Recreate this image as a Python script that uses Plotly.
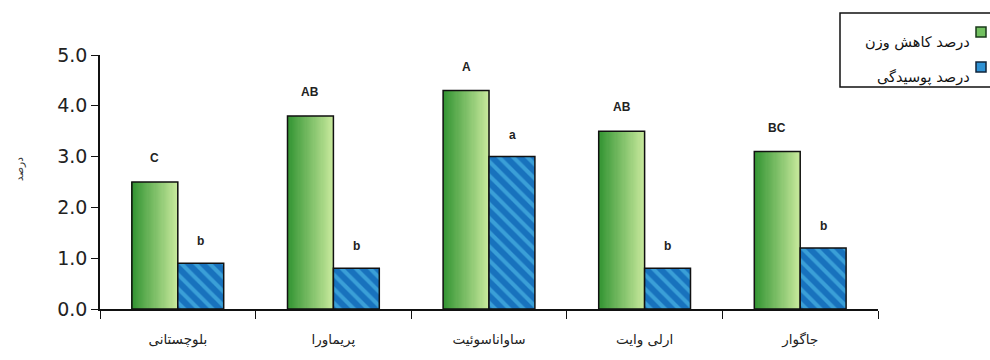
import plotly.graph_objects as go

categories = ["بلوچستانی", "پریماورا", "ساواناسوئیت", "ارلی وایت", "جاگوار"]
weight_loss = [2.5, 3.8, 4.3, 3.5, 3.1]
decay = [0.9, 0.8, 3.0, 0.8, 1.2]
weight_letters = ["C", "AB", "A", "AB", "BC"]
decay_letters = ["b", "b", "a", "b", "b"]
series_names = ["درصد کاهش وزن", "درصد پوسیدگی"]
y_ticks = [0, 1, 2, 3, 4, 5]
y_title = "درصد"

BW = 0.295
NSL = 40
dark = (50, 148, 50)
light = (198, 232, 155)

fig = go.Figure()

# green gradient bars built from thin slices
for i in range(NSL):
    t = i / (NSL - 1)
    c = tuple(round(dark[k] + (light[k] - dark[k]) * t) for k in range(3))
    fig.add_trace(go.Bar(
        x=categories, y=weight_loss, width=BW / NSL + 0.003, offset=-BW + i * BW / NSL,
        marker=dict(color="rgb(%d,%d,%d)" % c, line=dict(width=0)),
        showlegend=False, hoverinfo="skip"))
# green outline
fig.add_trace(go.Bar(
    x=categories, y=weight_loss, width=BW, offset=-BW, name=series_names[0],
    marker=dict(color="rgba(0,0,0,0)", line=dict(color="#111", width=1.5)),
    showlegend=False))
# blue hatched bars
fig.add_trace(go.Bar(
    x=categories, y=decay, width=BW, offset=0, name=series_names[1],
    marker=dict(color="#1872bd", line=dict(color="#111", width=1.5),
                pattern=dict(shape="\\", fgcolor="#5ccbf2", bgcolor="#1872bd",
                             size=10, solidity=0.4)),
    showlegend=False))

annotations = []
for cat, v, l in zip(categories, weight_loss, weight_letters):
    annotations.append(dict(x=cat, y=v, xref="x", yref="y", text="<b>%s</b>" % l,
                            showarrow=False, xshift=-23, yshift=24,
                            font=dict(family="Arial, Liberation Sans", size=12, color="#222")))
for cat, v, l in zip(categories, decay, decay_letters):
    annotations.append(dict(x=cat, y=v, xref="x", yref="y", text="<b>%s</b>" % l,
                            showarrow=False, xshift=23, yshift=22,
                            font=dict(family="Arial, Liberation Sans", size=12, color="#222")))

# y title
annotations.append(dict(x=-0.115, y=0.55, xref="paper", yref="paper", text=y_title,
                        textangle=-90, showarrow=False,
                        font=dict(family="DejaVu Sans", size=10.5, color="#333")))

# manual legend (RTL: key on the right of the text, box cut by the right edge)
PW, PH, L, B = 778.0, 254.0, 100.0, 309.0
def px(x):
    return (x - L) / PW
def py(y):
    return (B - y) / PH

shapes = [
    dict(type="rect", xref="paper", yref="paper", x0=px(840), x1=px(1010), y0=py(87), y1=py(13),
         line=dict(color="#111", width=1.5), fillcolor="white", layer="below"),
    dict(type="rect", xref="paper", yref="paper", x0=px(976), x1=px(986), y0=py(37), y1=py(27),
         line=dict(color="#1a3a1a", width=1.5), fillcolor="#72c060"),
    dict(type="rect", xref="paper", yref="paper", x0=px(976), x1=px(986), y0=py(72), y1=py(62),
         line=dict(color="#10243a", width=1.5), fillcolor="#2f92d4"),
]
annotations.append(dict(x=px(972), y=py(32), xref="paper", yref="paper", text=series_names[0],
                        xanchor="right", showarrow=False,
                        font=dict(family="DejaVu Sans", size=14.5, color="#111")))
annotations.append(dict(x=px(972), y=py(67), xref="paper", yref="paper", text=series_names[1],
                        xanchor="right", showarrow=False,
                        font=dict(family="DejaVu Sans", size=14.5, color="#111")))

fig.update_layout(
    width=990, height=360,
    margin=dict(l=100, r=112, t=55, b=51),
    paper_bgcolor="white", plot_bgcolor="white",
    barmode="overlay", bargap=0.4,
    showlegend=False,
    annotations=annotations, shapes=shapes,
    xaxis=dict(type="category", showline=True, linecolor="#111", linewidth=1.5,
               ticks="outside", tickson="boundaries", ticklen=8, tickcolor="#111",
               showgrid=False, zeroline=False, ticklabelstandoff=17,
               tickfont=dict(family="DejaVu Sans", size=13.5, color="#222")),
    yaxis=dict(range=[0, 5], tickvals=y_ticks, tickformat=".1f", showline=True,
               linecolor="#111", linewidth=1.5, ticks="outside", ticklen=7,
               tickcolor="#111", showgrid=False, zeroline=False,
               tickfont=dict(family="DejaVu Sans", size=19, color="#222")),
)

fig.write_html("out.html")
